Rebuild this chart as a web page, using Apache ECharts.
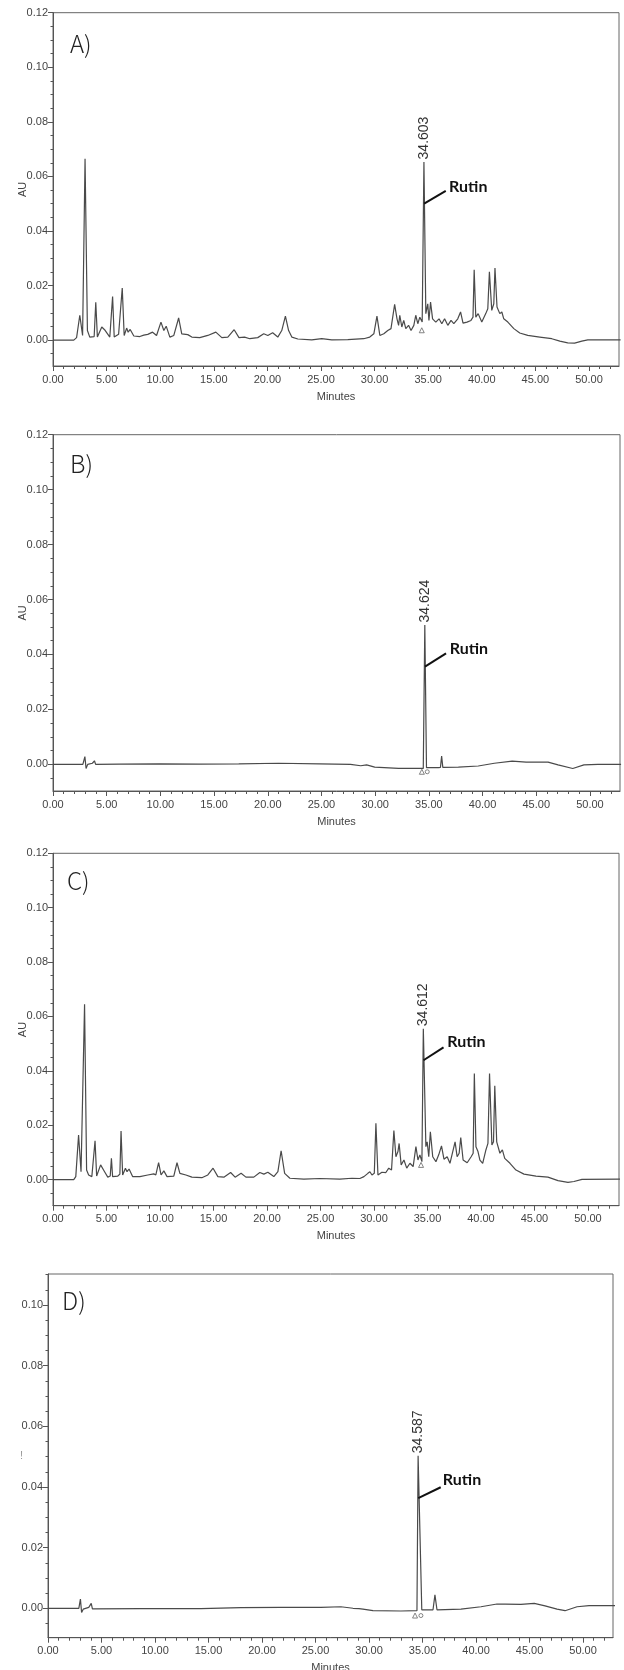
<!DOCTYPE html>
<html>
<head>
<meta charset="utf-8">
<script src="https://cdn.jsdelivr.net/npm/echarts@6/dist/echarts.min.js"></script>
<style>
html,body{margin:0;padding:0;background:#fff;}
#chart{width:624px;height:1670px;}
</style>
</head>
<body>
<div id="chart"></div>
<script>
// ---------------- DATA (minutes, AU) ----------------
const panelLabels = ['A)', 'B)', 'C)', 'D)'];
const peakLabels = ['34.603', '34.624', '34.612', '34.587'];
const peakTimes = [34.603, 34.624, 34.612, 34.587];
const compoundName = 'Rutin';
const xTickLabels = [0, 5, 10, 15, 20, 25, 30, 35, 40, 45, 50];
const yTickLabelsABC = [0, 0.02, 0.04, 0.06, 0.08, 0.10, 0.12];
const yTickLabelsD = [0, 0.02, 0.04, 0.06, 0.08, 0.10];

const chromA = [
[0,0],[1.94,0],[2.20,0.0009],[2.50,0.0091],[2.76,0.0017],[2.99,0.0665],[3.21,0.0035],[3.43,0.0011],
[3.84,0.0013],[3.99,0.0139],[4.14,0.0011],[4.55,0.0048],[4.81,0.0038],[5.30,0.0011],[5.45,0.0017],
[5.56,0.0160],[5.71,0.0011],[6.12,0.0021],[6.46,0.0191],[6.64,0.0017],[6.87,0.0044],[7.01,0.0029],
[7.20,0.0039],[7.54,0.0015],[8.10,0.0013],[8.47,0.0018],[8.84,0.0021],[9.29,0.0029],[9.66,0.0017],
[10.07,0.0066],[10.34,0.0035],[10.56,0.0051],[10.90,0.0011],[11.27,0.0017],[11.72,0.0081],[12.01,0.0023],
[12.57,0.0020],[12.95,0.0011],[13.69,0.0009],[14.44,0.0017],[15.19,0.0029],[15.75,0.0009],[16.31,0.0011],
[16.90,0.0038],[17.35,0.0009],[17.87,0.0011],[18.36,0.0005],[19.10,0.0009],[19.66,0.0023],[20.04,0.0017],
[20.49,0.0027],[20.97,0.0011],[21.34,0.0035],[21.68,0.0088],[21.98,0.0035],[22.28,0.0011],[22.84,0.0004],
[24.14,0.0001],[25.07,0.0005],[26.01,0.0001],[27.50,0.0002],[28.99,0.0005],[29.55,0.0011],[29.93,0.0023],
[30.22,0.0088],[30.49,0.0017],[30.86,0.0023],[31.23,0.0035],[31.53,0.0042],[31.87,0.0131],[32.09,0.0078],
[32.24,0.0054],[32.35,0.0091],[32.54,0.0048],[32.72,0.0072],[32.91,0.0042],[33.17,0.0054],[33.40,0.0035],
[33.66,0.0054],[33.84,0.0091],[34.03,0.0060],[34.22,0.0084],[34.44,0.0066],[34.603,0.0653],[34.78,0.0097],
[34.96,0.0133],[35.07,0.0072],[35.22,0.0139],[35.41,0.0078],[35.71,0.0066],[36.01,0.0078],[36.27,0.0060],
[36.53,0.0078],[36.83,0.0054],[37.13,0.0072],[37.39,0.0060],[37.76,0.0078],[38.02,0.0103],[38.25,0.0062],
[38.62,0.0066],[38.99,0.0072],[39.18,0.0084],[39.29,0.0258],[39.44,0.0084],[39.66,0.0097],[40.00,0.0066],
[40.37,0.0097],[40.56,0.0115],[40.71,0.0250],[40.93,0.0109],[41.12,0.0133],[41.23,0.0264],[41.42,0.0121],
[41.68,0.0097],[41.87,0.0103],[42.05,0.0078],[42.43,0.0066],[42.99,0.0042],[43.54,0.0026],[44.29,0.0017],
[45.41,0.0011],[46.53,0.0005],[47.28,-0.0004],[48.02,-0.0010],[48.66,-0.0011],[49.33,-0.0004],[49.89,0.0001],
[52.95,0.0001]
];

const chromB = [
[0,0],[2.78,0],[2.97,0.0028],[3.08,-0.0015],[3.23,0],[3.67,0.0004],[3.86,0.0013],[3.97,0],
[6.2,0.0001],[9.9,0.0002],[13.6,0.0001],[17.3,0.0002],[21.0,0.0004],[24.8,0.0002],[27.7,0],
[28.66,-0.0005],[29.2,-0.0002],[29.96,-0.0010],[32.18,-0.0015],[34.22,-0.0015],[34.48,-0.0015],
[34.624,0.0507],[34.78,-0.0012],[35.89,-0.0012],[36.08,-0.0011],[36.19,0.0030],[36.30,-0.0011],
[37.75,-0.0010],[39.6,-0.0006],[41.1,0.0004],[42.76,0.0012],[44.06,0.0008],[46.1,0.0008],
[47.03,-0.0002],[48.4,-0.0015],[49.44,-0.0002],[50.74,0],[52.9,0]
];

const chromC = [
[0,0],[1.94,0],[2.13,0.0011],[2.39,0.0164],[2.62,0.0029],[2.77,0.0035],[2.95,0.0645],[3.14,0.0035],
[3.33,0.0017],[3.63,0.0011],[3.81,0.0017],[3.93,0.0143],[4.08,0.0013],[4.45,0.0054],[4.82,0.0029],
[5.12,0.0009],[5.35,0.0013],[5.46,0.0078],[5.57,0.0011],[6.06,0.0013],[6.25,0.0020],[6.36,0.0179],
[6.51,0.0017],[6.77,0.0042],[6.92,0.0029],[7.11,0.0039],[7.44,0.0011],[8.12,0.0011],[8.86,0.0017],
[9.42,0.0021],[9.61,0.0017],[9.87,0.0062],[10.10,0.0017],[10.36,0.0032],[10.66,0.0011],[11.29,0.0013],
[11.59,0.0062],[11.86,0.0023],[12.42,0.0017],[12.98,0.0009],[13.91,0.0007],[14.47,0.0017],[14.96,0.0042],
[15.41,0.0011],[15.97,0.0009],[16.60,0.0026],[17.02,0.0009],[17.58,0.0023],[18.03,0.0009],[18.77,0.0009],
[19.33,0.0026],[19.71,0.0020],[20.08,0.0027],[20.64,0.0011],[21.02,0.0029],[21.32,0.0106],[21.65,0.0023],
[22.14,0.0005],[23.45,0.0002],[24.94,0.0004],[26.81,0.0002],[27.94,0.0005],[28.68,0.0004],[29.06,0.0011],
[29.43,0.0023],[29.62,0.0029],[29.81,0.0017],[30.03,0.0023],[30.18,0.0207],[30.37,0.0017],[30.74,0.0027],
[31.11,0.0026],[31.38,0.0042],[31.64,0.0035],[31.86,0.0180],[32.05,0.0084],[32.24,0.0103],[32.35,0.0133],
[32.54,0.0054],[32.80,0.0072],[33.06,0.0042],[33.36,0.0060],[33.66,0.0048],[33.92,0.0121],[34.11,0.0072],
[34.29,0.0091],[34.48,0.0066],[34.612,0.0555],[34.85,0.0121],[34.97,0.0139],[35.12,0.0084],[35.27,0.0176],
[35.49,0.0084],[35.79,0.0066],[36.05,0.0091],[36.31,0.0124],[36.54,0.0075],[36.84,0.0084],[37.10,0.0060],
[37.29,0.0091],[37.58,0.0139],[37.77,0.0084],[37.96,0.0097],[38.11,0.0155],[38.33,0.0072],[38.71,0.0062],
[39.08,0.0084],[39.27,0.0097],[39.38,0.0390],[39.53,0.0121],[39.72,0.0103],[39.90,0.0072],[40.16,0.0060],
[40.46,0.0109],[40.65,0.0133],[40.80,0.0390],[41.02,0.0127],[41.17,0.0139],[41.29,0.0345],[41.47,0.0139],
[41.77,0.0097],[42.00,0.0109],[42.22,0.0078],[42.71,0.0060],[43.27,0.0035],[44.02,0.0020],[45.14,0.0013],
[46.26,0.0009],[47.20,-0.0004],[48.13,-0.0010],[48.69,-0.0007],[49.44,0.0001],[52.99,0.0002]
];

const chromD = [
[0,0],[2.88,0],[3.03,0.0030],[3.14,-0.0014],[3.29,-0.0003],[3.81,0.0003],[4.04,0.0016],[4.15,-0.0002],
[8.68,-0.0001],[14.29,-0.0001],[18.03,0.0002],[21.77,0.0003],[25.50,0.0003],[27.37,0.0005],[28.50,0],
[29.06,-0.0001],[29.24,0.0003],[29.43,-0.0003],[30.37,-0.0008],[32.98,-0.0009],[34.48,-0.0008],
[34.587,0.0503],[34.93,-0.0005],[35.98,-0.0005],[36.16,0.0044],[36.35,-0.0005],[38.59,-0.0003],
[40.46,0.0005],[41.96,0.0014],[42.07,0.0019],[42.71,0.0014],[44.20,0.0013],[45.44,0.0016],[46.45,0.0008],
[47.57,-0.0003],[48.32,-0.0008],[49.44,0.0005],[50.56,0.0009],[52.99,0.0009]
];

// annotation anchors (data coordinates): leader line start/end, "Rutin" text, base markers
const leaderA = [[34.62, 0.0500], [36.64, 0.0547]];
const leaderB = [[34.64, 0.0356], [36.60, 0.0404]];
const leaderC = [[34.63, 0.0439], [36.50, 0.0486]];
const leaderD = [[34.60, 0.0363], [36.70, 0.0399]];
const nameAt = [[36.95, 0.0563], [36.95, 0.0422], [36.85, 0.0505], [36.90, 0.0423]];
const baseMarks = [
  [[34.40, 0.0036]],
  [[34.35, -0.0027], [34.85, -0.0027]],
  [[34.40, 0.0054]],
  [[34.30, -0.0024], [34.85, -0.0024]]
];

// ---------------- LAYOUT ----------------
const panels = [
  {data: chromA, leader: leaderA, left: 53, top: 12.7, width: 566, height: 353.3, xMax: 52.8, yMin: -0.0095, yMax: 0.12, yTicks: yTickLabelsABC, yName: 'AU', yNameRot: 90},
  {data: chromB, leader: leaderB, left: 53, top: 434.7, width: 567, height: 356.3, xMax: 52.8, yMin: -0.0097, yMax: 0.12, yTicks: yTickLabelsABC, yName: 'AU', yNameRot: 90},
  {data: chromC, leader: leaderC, left: 53, top: 853.3, width: 566, height: 352.4, xMax: 52.9, yMin: -0.0096, yMax: 0.12, yTicks: yTickLabelsABC, yName: 'AU', yNameRot: 90},
  {data: chromD, leader: leaderD, left: 48, top: 1274, width: 565, height: 363.7, xMax: 52.8, yMin: -0.0097, yMax: 0.1102, yTicks: yTickLabelsD, yName: '!', yNameRot: 0}
];
const letterPos = [[70, 32], [70, 452], [67, 869], [62, 1289]];

const AXFONT = '"Liberation Sans Narrow","Arial Narrow","Liberation Sans",Arial,sans-serif';
const AXCOL = '#555';
const TXTCOL = '#444';

function range(a, b, step) { const r = []; for (let v = a; v <= b + 1e-9; v += step) r.push(+v.toFixed(4)); return r; }

const grids = [], xAxes = [], yAxes = [], series = [], titles = [];
panels.forEach((p, i) => {
  grids.push({left: p.left, top: p.top, width: p.width, height: p.height, show: true, borderColor: '#666', borderWidth: 1,
    backgroundColor: 'transparent', containLabel: false, outerBoundsMode: 'none'});
  const xMinor = range(0, Math.floor(p.xMax), 1);
  const yMinor = range(-0.005, p.yMax, 0.005);
  xAxes.push({
    gridIndex: i, type: 'value', position: 'bottom', min: 0, max: p.xMax,
    axisLine: {show: true, onZero: false, lineStyle: {color: AXCOL, width: 1}},
    axisTick: {show: true, length: 5, customValues: xTickLabels, lineStyle: {color: AXCOL}},
    axisLabel: {customValues: xTickLabels, formatter: v => v.toFixed(2), margin: 8, fontSize: 11, color: TXTCOL, fontFamily: AXFONT},
    splitLine: {show: false},
    name: 'Minutes', nameLocation: 'middle', nameGap: 25, nameMoveOverlap: false,
    nameTextStyle: {fontSize: 11, color: TXTCOL, fontFamily: AXFONT}
  });
  xAxes.push({
    gridIndex: i, type: 'value', position: 'bottom', min: 0, max: p.xMax,
    axisLine: {show: false, onZero: false},
    axisTick: {show: true, length: 3, customValues: xMinor, lineStyle: {color: AXCOL}},
    axisLabel: {show: false}, splitLine: {show: false}
  });
  yAxes.push({
    gridIndex: i, type: 'value', position: 'left', min: p.yMin, max: p.yMax,
    axisLine: {show: true, onZero: false, lineStyle: {color: AXCOL, width: 1}},
    axisTick: {show: true, length: 5, customValues: p.yTicks, lineStyle: {color: AXCOL}},
    axisLabel: {customValues: p.yTicks, formatter: v => v.toFixed(2), margin: 5, fontSize: 11, color: TXTCOL, fontFamily: AXFONT},
    splitLine: {show: false},
    name: p.yName, nameLocation: 'middle', nameGap: 25, nameRotate: p.yNameRot, nameMoveOverlap: false,
    nameTextStyle: {fontSize: 11, color: i === 3 ? '#999' : TXTCOL, fontFamily: '"Liberation Sans", Arial, sans-serif'}
  });
  yAxes.push({
    gridIndex: i, type: 'value', position: 'left', min: p.yMin, max: p.yMax,
    axisLine: {show: false, onZero: false},
    axisTick: {show: true, length: 2.5, customValues: yMinor, lineStyle: {color: AXCOL}},
    axisLabel: {show: false}, splitLine: {show: false}
  });
  const peakVal = p.data.find(d => d[0] === peakTimes[i])[1];
  const mpData = [
    {coord: [peakTimes[i], peakVal], symbol: 'circle', symbolSize: 1, itemStyle: {color: 'transparent'},
     label: {show: true, formatter: peakLabels[i], position: 'top', distance: 2, rotate: 90, align: 'left', verticalAlign: 'middle',
             fontSize: 14, color: '#333', fontFamily: '"Liberation Sans", Arial, sans-serif'}},
    {coord: nameAt[i], symbol: 'circle', symbolSize: 1, itemStyle: {color: 'transparent'},
     label: {show: true, formatter: compoundName, position: 'inside', align: 'left', verticalAlign: 'middle',
             fontSize: 16, fontWeight: 'bold', color: '#111', fontFamily: 'Lato, "Open Sans", sans-serif'}}
  ];
  baseMarks[i].forEach((c, k) => mpData.push({coord: c, symbol: k === 0 ? 'triangle' : 'circle', symbolSize: k === 0 ? 5 : 4,
     itemStyle: {color: '#fff', borderColor: '#666', borderWidth: 0.8}, label: {show: false}}));
  series.push({
    type: 'line', xAxisIndex: 2 * i, yAxisIndex: 2 * i, data: p.data, showSymbol: false, symbol: 'none',
    lineStyle: {color: '#4a4a4a', width: 1.2}, silent: true, animation: false,
    markPoint: {silent: true, animation: false, data: mpData},
    markLine: {silent: true, animation: false, symbol: ['none', 'none'],
      lineStyle: {color: '#111', width: 2, type: 'solid'}, label: {show: false},
      data: [[{coord: p.leader[0]}, {coord: p.leader[1]}]]}
  });
  titles.push({text: panelLabels[i], left: letterPos[i][0], top: letterPos[i][1], padding: 0,
    textStyle: {fontSize: 24, fontWeight: 300, color: '#222', fontFamily: '"Noto Sans CJK KR", "Noto Sans", sans-serif'}});
});

const chart = echarts.init(document.getElementById('chart'), null, {renderer: 'canvas'});
chart.setOption({
  animation: false,
  backgroundColor: '#fff',
  title: titles,
  grid: grids,
  xAxis: xAxes,
  yAxis: yAxes,
  series: series
});
</script>
</body>
</html>
